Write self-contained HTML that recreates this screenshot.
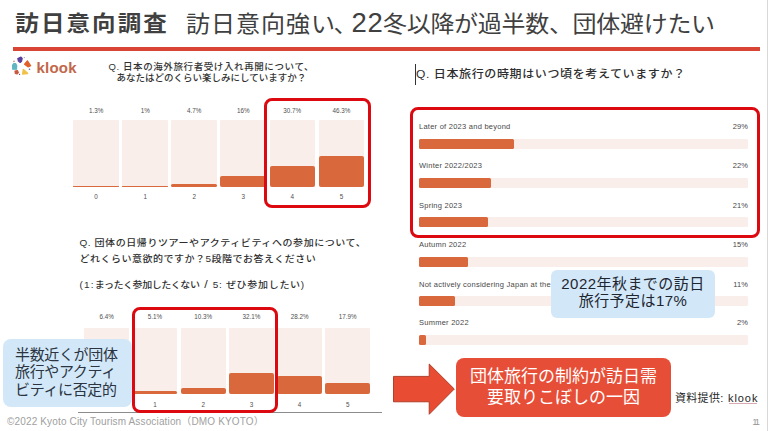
<!DOCTYPE html>
<html lang="ja">
<head>
<meta charset="utf-8">
<style>
*{margin:0;padding:0;box-sizing:border-box}
html,body{width:768px;height:431px;overflow:hidden;background:#fff}
body{position:relative;font-family:"Liberation Sans","Noto Sans CJK JP",sans-serif;color:#333}
.a{position:absolute;white-space:nowrap}
.jp{font-family:"Liberation Sans","Noto Sans CJK JP",sans-serif}
.bar{position:absolute;background:#f9eeea;border-radius:1px}
.fill{position:absolute;left:0;right:0;bottom:0;background:#d9683c;border-radius:2px}
.pl{position:absolute;font-size:6.3px;color:#505050;text-align:center;width:44px;line-height:8px}
.hb{position:absolute;background:#f9eeea;border-radius:1.5px;height:10px;left:419px;width:329px}
.hb i{position:absolute;left:0;top:0;bottom:0;background:#d9683c;border-radius:1.5px}
.hl{position:absolute;left:419px;font-size:7.5px;color:#484848;line-height:9px;letter-spacing:0.25px}
.hp{position:absolute;right:20px;font-size:7.5px;color:#484848;line-height:9px;letter-spacing:0.1px}
.rbox{position:absolute;border:3.6px solid #dc0a10;border-radius:8px;z-index:2}
</style>
</head>
<body>
<!-- right strip -->
<div class="a" style="left:766.5px;top:0;width:1.5px;height:431px;background:#d8d8d8"></div>

<!-- title -->
<div class="a jp" style="left:15.3px;top:5.1px;font-size:23.5px;line-height:36px;font-weight:700;color:#404040;letter-spacing:2.1px;transform:scaleY(0.93);transform-origin:0 23px">訪日意向調査</div>
<div class="a jp" style="left:186px;top:6.2px;font-size:24px;line-height:36px;color:#404040;transform:scaleY(0.94);transform-origin:0 23px"><span style="letter-spacing:1px">訪日意向強い<span style="margin-left:-2.5px">、</span></span></div>
<div class="a" style="left:351.5px;top:4.5px;font-size:27.5px;line-height:36px;color:#404040;letter-spacing:0.6px">22</div>
<div class="a jp" style="left:383px;top:6.2px;font-size:24px;line-height:36px;color:#404040;letter-spacing:-0.3px;transform:scaleY(0.94);transform-origin:0 23px">冬以降が過半数、団体避けたい</div>
<div class="a" style="left:13px;top:47px;width:747px;height:3.5px;background:#d84535"></div>

<!-- klook logo -->
<svg class="a" style="left:0;top:0" width="40" height="80" viewBox="0 0 40 80">
  <g stroke-linejoin="round" stroke-width="1.2">
  <path d="M17.8 58.6 L21 57.1 L22.2 58.3 L21.5 61.4 L20.2 62.5 L18.4 61.1 Z" fill="#5a3f9e" stroke="#5a3f9e"/>
  <path d="M24.6 64.2 L27.4 60.8 L30.7 65.8 L28 66.9 Z" fill="#e1602a" stroke="#e1602a"/>
  <path d="M12.6 65.2 L13.8 63.6 L15.6 63.6 L16.7 65.6 L16.5 69.2 L12.7 69.2 Z" fill="#5fb6c1" stroke="#5fb6c1"/>
  <path d="M23.4 69.6 L27.5 73.4 L22.7 74 Z" fill="#f0c24a" stroke="#f0c24a" stroke-width="1.6"/>
  <path d="M15 71 L17.4 70.6 L18.3 72.6 L17.2 74 L15.3 73.5 Z" fill="#c9573a" stroke="#c9573a"/>
  </g>
  <circle cx="14" cy="61.4" r="0.8" fill="#c98a80"/>
  <circle cx="24.3" cy="57.6" r="0.6" fill="#9a9a9a"/>
  <circle cx="29.5" cy="69.3" r="0.8" fill="#5a6aa8"/>
  <circle cx="19.6" cy="74.4" r="0.6" fill="#5a5a7a"/>
</svg>
<div class="a" style="left:36.5px;top:58px;font-size:15px;line-height:20px;font-weight:700;color:#c2684a;letter-spacing:0.2px">klook</div>

<!-- Chart A question -->
<div class="a jp" style="left:108.5px;top:60.5px;font-size:9.5px;line-height:12px;font-weight:500;color:#333;letter-spacing:0.6px">Q. 日本の海外旅行者受け入れ再開について、</div>
<div class="a jp" style="left:116.5px;top:72.3px;font-size:9.5px;line-height:12px;font-weight:500;color:#333;letter-spacing:0px">あなたはどのくらい楽しみにしていますか？</div>
<div class="bar" style="left:73.3px;top:119.6px;width:45.6px;height:67.2px"><div class="fill" style="height:0.9px"></div></div>
<div class="pl" style="left:74.1px;top:107.3px">1.3%</div>
<div class="pl" style="left:74.1px;top:192.8px">0</div>
<div class="bar" style="left:122.3px;top:119.6px;width:45.6px;height:67.2px"><div class="fill" style="height:0.9px"></div></div>
<div class="pl" style="left:123.2px;top:107.3px">1%</div>
<div class="pl" style="left:123.2px;top:192.8px">1</div>
<div class="bar" style="left:171.4px;top:119.6px;width:45.6px;height:67.2px"><div class="fill" style="height:3.2px"></div></div>
<div class="pl" style="left:172.2px;top:107.3px">4.7%</div>
<div class="pl" style="left:172.2px;top:192.8px">2</div>
<div class="bar" style="left:220.4px;top:119.6px;width:45.6px;height:67.2px"><div class="fill" style="height:10.8px"></div></div>
<div class="pl" style="left:221.2px;top:107.3px">16%</div>
<div class="pl" style="left:221.2px;top:192.8px">3</div>
<div class="bar" style="left:269.5px;top:119.6px;width:45.6px;height:67.2px"><div class="fill" style="height:20.6px"></div></div>
<div class="pl" style="left:270.3px;top:107.3px">30.7%</div>
<div class="pl" style="left:270.3px;top:192.8px">4</div>
<div class="bar" style="left:318.6px;top:119.6px;width:45.6px;height:67.2px"><div class="fill" style="height:31.1px"></div></div>
<div class="pl" style="left:319.4px;top:107.3px">46.3%</div>
<div class="pl" style="left:319.4px;top:192.8px">5</div>
<div class="rbox" style="left:264.3px;top:97.9px;width:106.4px;height:109.7px"></div>

<!-- Chart B question -->
<div class="a jp" style="left:79.5px;top:235.1px;font-size:10px;line-height:15px;font-weight:500;color:#2e2e2e;letter-spacing:0.57px;transform:scaleY(0.9)">Q. 団体の日帰りツアーやアクティビティへの参加について、</div>
<div class="a jp" style="left:79.5px;top:250.8px;font-size:10px;line-height:15px;font-weight:500;color:#2e2e2e;letter-spacing:0.5px;transform:scaleY(0.9)">どれくらい意欲的ですか？5段階でお答えください</div>
<div class="a jp" style="left:79.5px;top:276.5px;font-size:10px;line-height:15px;font-weight:500;color:#2e2e2e;letter-spacing:0.4px;transform:scaleY(0.9)"><span style="letter-spacing:1.2px">(1:</span><span style="letter-spacing:-0.45px">まったく参加したくない</span> <span style="font-size:12.5px;line-height:0;margin:0 1.5px">/</span> <span style="letter-spacing:0.7px">5: ぜひ参加したい)</span></div>
<div class="bar" style="left:84.2px;top:328.1px;width:45.1px;height:66.3px"><div class="fill" style="height:4.2px"></div></div>
<div class="pl" style="left:84.8px;top:313.0px">6.4%</div>
<div class="pl" style="left:84.8px;top:400.5px">0</div>
<div class="bar" style="left:132.4px;top:328.1px;width:45.1px;height:66.3px"><div class="fill" style="height:3.4px"></div></div>
<div class="pl" style="left:133.0px;top:313.0px">5.1%</div>
<div class="pl" style="left:133.0px;top:400.5px">1</div>
<div class="bar" style="left:180.6px;top:328.1px;width:45.1px;height:66.3px"><div class="fill" style="height:6.8px"></div></div>
<div class="pl" style="left:181.2px;top:313.0px">10.3%</div>
<div class="pl" style="left:181.2px;top:400.5px">2</div>
<div class="bar" style="left:228.8px;top:328.1px;width:45.1px;height:66.3px"><div class="fill" style="height:21.3px"></div></div>
<div class="pl" style="left:229.4px;top:313.0px">32.1%</div>
<div class="pl" style="left:229.4px;top:400.5px">3</div>
<div class="bar" style="left:277.0px;top:328.1px;width:45.1px;height:66.3px"><div class="fill" style="height:18.7px"></div></div>
<div class="pl" style="left:277.6px;top:313.0px">28.2%</div>
<div class="pl" style="left:277.6px;top:400.5px">4</div>
<div class="bar" style="left:325.2px;top:328.1px;width:45.1px;height:66.3px"><div class="fill" style="height:11.9px"></div></div>
<div class="pl" style="left:325.8px;top:313.0px">17.9%</div>
<div class="pl" style="left:325.8px;top:400.5px">5</div>
<div class="rbox" style="left:132.2px;top:306.9px;width:145.4px;height:106.6px"></div>

<!-- Chart C -->
<div class="a" style="left:415px;top:64px;width:1px;height:21px;background:#333"></div>
<div class="a jp" style="left:416px;top:65.5px;font-size:12px;line-height:16px;font-weight:500;color:#2e2e2e;letter-spacing:0.62px;transform:scaleY(0.95);transform-origin:0 8px">Q. 日本旅行の時期はいつ頃を考えていますか？</div>
<div class="hl" style="top:122.4px">Later of 2023 and beyond</div>
<div class="hp" style="top:122.4px">29%</div>
<div class="hb" style="top:138.6px"><i style="width:95.4px"></i></div>
<div class="hl" style="top:161.2px">Winter 2022/2023</div>
<div class="hp" style="top:161.2px">22%</div>
<div class="hb" style="top:177.5px"><i style="width:72.4px"></i></div>
<div class="hl" style="top:201.0px">Spring 2023</div>
<div class="hp" style="top:201.0px">21%</div>
<div class="hb" style="top:216.7px"><i style="width:69.1px"></i></div>
<div class="hl" style="top:240.4px">Autumn 2022</div>
<div class="hp" style="top:240.4px">15%</div>
<div class="hb" style="top:256.5px"><i style="width:49.4px"></i></div>
<div class="hl" style="top:279.6px">Not actively considering Japan at the moment</div>
<div class="hp" style="top:279.6px">11%</div>
<div class="hb" style="top:295.8px"><i style="width:36.2px"></i></div>
<div class="hl" style="top:318.0px">Summer 2022</div>
<div class="hp" style="top:318.0px">2%</div>
<div class="hb" style="top:334.5px"><i style="width:6.6px"></i></div>
<div class="rbox" style="left:410.1px;top:107.1px;width:350.3px;height:130.7px"></div>

<!-- callouts -->
<div class="a jp" style="left:2.5px;top:338.8px;width:129px;height:68.2px;background:#d2e8f9;border-radius:8px;font-size:15px;line-height:17.4px;color:#2b3440;padding:7px 0 0 12.5px;letter-spacing:-0.35px">半数近くが団体<br>旅行やアクティ<br>ビティに否定的</div>
<div class="a jp" style="left:551px;top:270px;width:164px;height:48px;background:#d2e8f9;border-radius:6px;font-size:15px;line-height:17px;color:#1e2630;text-align:center;padding-top:5.2px;letter-spacing:0.45px">2022年秋までの訪日<br>旅行予定は17%</div>

<!-- arrow -->
<svg class="a" style="left:392px;top:362px" width="65" height="55" viewBox="0 0 65 55">
  <path d="M1.5 14.4 H37.2 V2 L62.3 27 L37.2 52.3 V39.8 H1.5 Z" fill="#e84c32" stroke="#a8361f" stroke-width="0.9"/>
</svg>

<!-- red callout -->
<div class="a jp" style="left:456px;top:358px;width:215px;height:59px;background:#e74e37;border-radius:8px;font-size:17px;line-height:20.5px;color:#fff;text-align:center;padding-top:9.4px">団体旅行の制約が訪日需<br>要取りこぼしの一因</div>

<div class="a jp" style="left:675px;top:391px;font-size:11px;line-height:14px;color:#262626;letter-spacing:0.3px">資料提供: <span style="letter-spacing:0.9px;margin-left:1.2px">klook</span></div>
<div class="a" style="left:728.5px;top:403px;width:28px;height:1px;background:#d9aab2"></div>
<div class="a" style="left:752.3px;top:416.2px;font-size:9.4px;line-height:11px;color:#999;letter-spacing:-2px">11</div>

<!-- footer -->
<div class="a" style="left:77.5px;top:412px;width:304.5px;height:1px;background:#8c8c8c"></div>
<div class="a" style="left:7px;top:414.8px;font-size:10px;line-height:13px;color:#a0a0a0;letter-spacing:0.15px">©2022 Kyoto City Tourism Association（DMO KYOTO）</div>



</body>
</html>
